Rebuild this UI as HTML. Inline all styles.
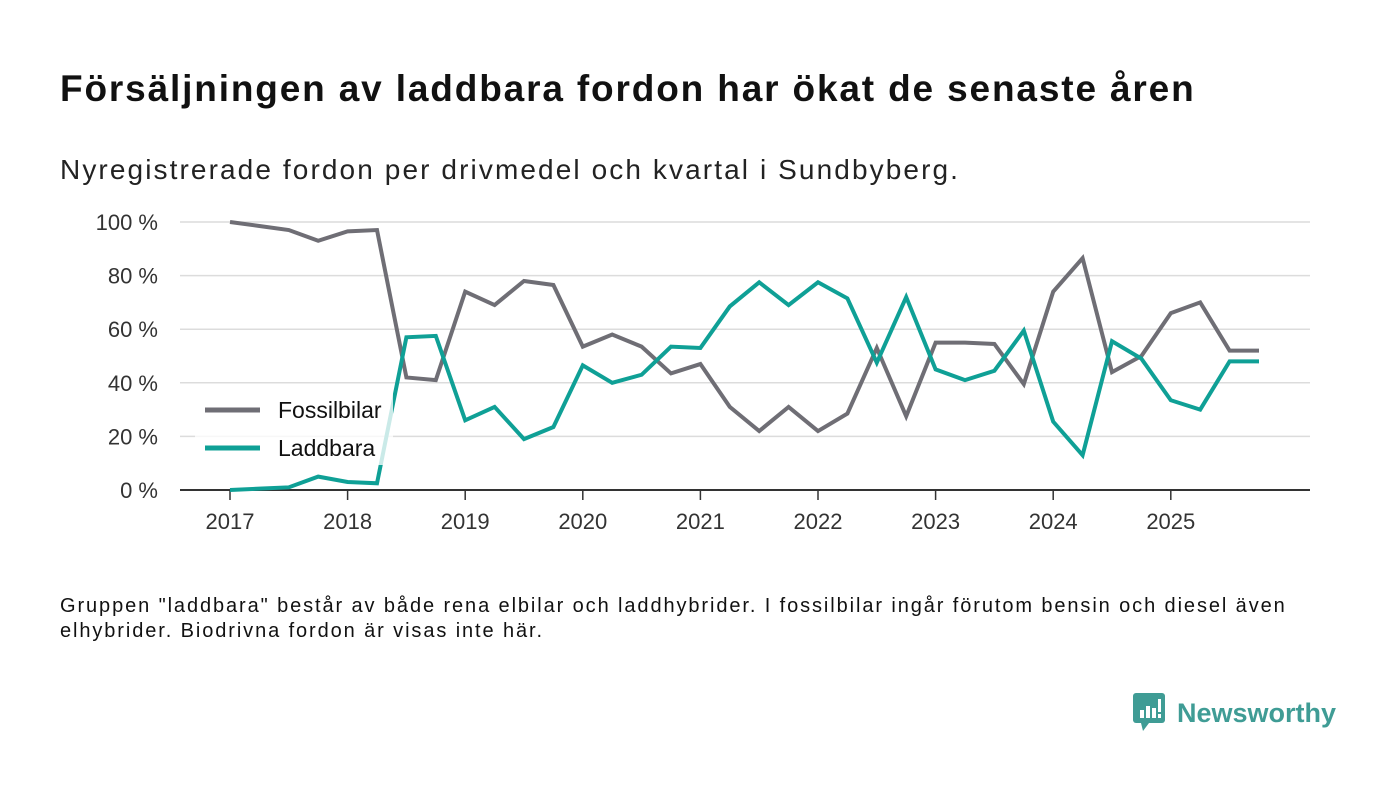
<!DOCTYPE html>
<html><head><meta charset="utf-8"><style>
body{margin:0;width:1400px;height:793px;background:#fff;font-family:"Liberation Sans","DejaVu Sans",sans-serif;overflow:hidden;position:relative}
.t{position:absolute;margin:0;color:#111}
</style></head><body>
<h1 class="t" style="left:60px;top:68px;font-size:37px;font-weight:bold;letter-spacing:1.85px;white-space:nowrap">Försäljningen av laddbara fordon har ökat de senaste åren</h1>
<div class="t" style="left:60px;top:154px;font-size:28px;color:#222;letter-spacing:2.1px;white-space:nowrap">Nyregistrerade fordon per drivmedel och kvartal i Sundbyberg.</div>
<svg id="chart" width="1400" height="560" style="position:absolute;left:0;top:0"></svg>
<div class="t" style="left:60px;top:594px;font-size:20px;line-height:25px;width:1240px;color:#111;letter-spacing:1.9px">Gruppen "laddbara" består av både rena elbilar och laddhybrider. I fossilbilar ingår förutom bensin och diesel även elhybrider. Biodrivna fordon är visas inte här.</div>
<div style="position:absolute;left:1133px;top:693px;display:flex;align-items:center">
<svg width="34" height="40"><rect x="0" y="0" width="32" height="30" rx="3" fill="#3f9c95"/><polygon points="8,30 16,30 10,38" fill="#3f9c95"/><rect x="7" y="17" width="4" height="8" fill="#fff"/><rect x="13" y="13" width="4" height="12" fill="#fff"/><rect x="19" y="15" width="4" height="10" fill="#fff"/><rect x="25" y="6" width="3" height="13" fill="#fff"/><rect x="25" y="21" width="3" height="4" fill="#fff"/></svg>
<span style="color:#3f9c95;font-size:27px;font-weight:bold;margin-left:10px">Newsworthy</span></div>
<script>
const quarters=36;
const yearLabels=["2017","2018","2019","2020","2021","2022","2023","2024","2025"];
const yTicks=[0,20,40,60,80,100];
const fossil=[100,98.5,97,93,96.5,97,42,41,74,69,78,76.5,53.5,58,53.5,43.5,47,31,22,31,22,28.5,53,27.5,55,55,54.5,39.5,74,86.5,44,50,66,70,52,52];
const laddbara=[0,0.5,1,5,3,2.5,57,57.5,26,31,19,23.5,46.5,40,43,53.5,53,68.5,77.5,69,77.5,71.5,47.5,72,45,41,44.5,59.5,25.5,13,55.5,49,33.5,30,48,48];
const NS="http://www.w3.org/2000/svg",svg=document.getElementById('chart');
const x=i=>230+i*29.4, y=v=>490-v*2.68;
function mk(t,a){const e=document.createElementNS(NS,t);for(const k in a)e.setAttribute(k,a[k]);svg.appendChild(e);return e;}
yTicks.forEach(v=>{
 if(v>0){const g=mk('line',{x1:180,x2:1310,y1:y(v),y2:y(v),stroke:'#dcdcdc','stroke-width':1.5});
 
 }
 const t=mk('text',{x:158,y:y(v)+8,'text-anchor':'end','font-size':22,fill:'#333','font-family':'Liberation Sans, sans-serif'});t.textContent=v+' %';
 
 
});
yearLabels.forEach((l,i)=>{
 const xx=x(i*4);
 const tk=mk('line',{x1:xx,x2:xx,y1:490,y2:500,stroke:'#333','stroke-width':1.5});
 
 
 const t=mk('text',{x:xx,y:529,'text-anchor':'middle','font-size':22,fill:'#333','font-family':'Liberation Sans, sans-serif'});t.textContent=l;
 
 
});
const ax=mk('line',{x1:180,x2:1310,y1:490,y2:490,stroke:'#333','stroke-width':2});


function line(d,c,n){const p=mk('polyline',{points:d.map((v,i)=>x(i)+','+y(v)).join(' '),fill:'none',stroke:c,'stroke-width':4,'stroke-linejoin':'miter'});
 
 }
line(fossil,'#6f6e75','fossilbilar-line');
line(laddbara,'#0fa096','laddbara-line');
const bg=mk('rect',{x:195,y:385,width:198,height:80,fill:'#fff','fill-opacity':0.78});


[['Fossilbilar','#6f6e75',410],['Laddbara','#0fa096',448]].forEach(([n,c,yy])=>{
 const l=mk('line',{x1:205,x2:260,y1:yy,y2:yy,stroke:c,'stroke-width':5});
 
 
 const t=mk('text',{x:278,y:yy+8,'font-size':23,fill:'#111','font-family':'Liberation Sans, sans-serif'});t.textContent=n;
 
 
});
</script>
</body></html>
